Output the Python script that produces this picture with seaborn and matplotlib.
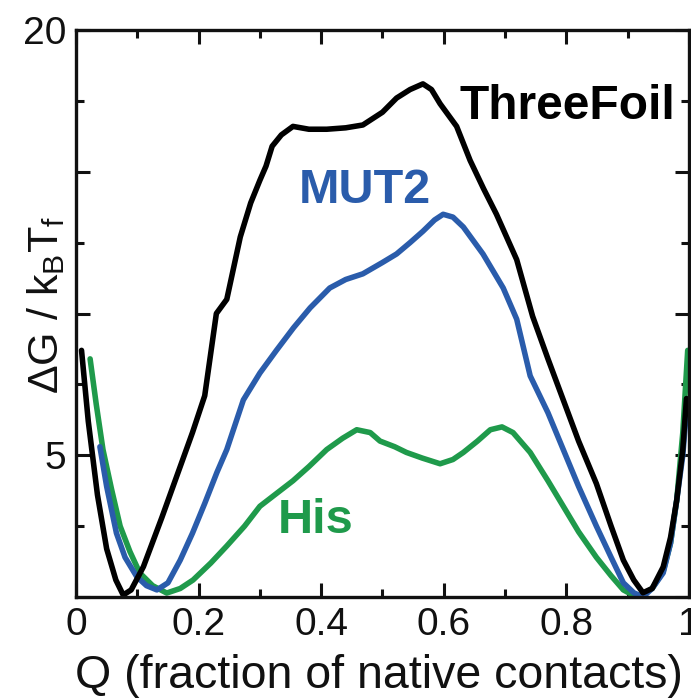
import matplotlib
matplotlib.use("Agg")
import matplotlib.pyplot as plt
import seaborn as sns
import pandas as pd
from matplotlib.ticker import MultipleLocator

# ThreeFoil (black)
q_three = [0.009, 0.02, 0.035, 0.05, 0.065, 0.077, 0.09, 0.11, 0.14, 0.17, 0.19, 0.21, 0.229, 0.246,
           0.268, 0.285, 0.3, 0.31, 0.32, 0.335, 0.354, 0.38, 0.409, 0.44, 0.468, 0.5, 0.523, 0.545,
           0.566, 0.58, 0.594, 0.621, 0.643, 0.665, 0.686, 0.719, 0.745, 0.77, 0.795, 0.82, 0.849,
           0.873, 0.893, 0.91, 0.925, 0.94, 0.958, 0.97, 0.98, 0.99, 0.996]
g_three = [8.7, 6.2, 3.6, 1.7, 0.6, 0.07, 0.25, 1.07, 2.8, 4.6, 5.8, 7.1, 10.0, 10.5,
           12.7, 13.9, 14.7, 15.2, 15.9, 16.3, 16.6, 16.5, 16.5, 16.55, 16.65, 17.1, 17.6, 17.9,
           18.1, 17.9, 17.4, 16.6, 15.4, 14.4, 13.5, 11.9, 9.9, 8.4, 6.95, 5.5, 4.0,
           2.5, 1.3, 0.6, 0.15, 0.3, 1.06, 2.1, 3.4, 5.2, 7.0]

# MUT2 (blue)
q_mut2 = [0.039, 0.05, 0.066, 0.08, 0.099, 0.115, 0.132, 0.15, 0.17, 0.19, 0.21, 0.23, 0.246,
          0.273, 0.3, 0.327, 0.355, 0.382, 0.414, 0.44, 0.468, 0.5, 0.523, 0.545, 0.566, 0.585,
          0.599, 0.615, 0.632, 0.664, 0.697, 0.719, 0.741, 0.77, 0.795, 0.82, 0.849, 0.873,
          0.893, 0.91, 0.925, 0.94, 0.958, 0.97, 0.98, 0.99, 0.996]
g_mut2 = [5.3, 3.9, 2.25, 1.4, 0.72, 0.4, 0.25, 0.5, 1.3, 2.25, 3.3, 4.4, 5.2,
          6.95, 7.9, 8.7, 9.5, 10.2, 10.9, 11.2, 11.4, 11.8, 12.1, 12.5, 12.9, 13.3,
          13.5, 13.4, 13.05, 12.1, 10.9, 9.8, 7.8, 6.5, 5.2, 3.9, 2.5, 1.4,
          0.5, 0.15, 0.0, 0.3, 0.85, 1.9, 3.4, 5.0, 6.6]

# His (green)
q_his = [0.023, 0.033, 0.044, 0.058, 0.072, 0.088, 0.104, 0.125, 0.148, 0.17, 0.191, 0.22, 0.246,
         0.275, 0.3, 0.33, 0.354, 0.38, 0.409, 0.435, 0.458, 0.48, 0.496, 0.52, 0.539, 0.565,
         0.594, 0.615, 0.632, 0.655, 0.676, 0.695, 0.713, 0.741, 0.77, 0.795, 0.82, 0.849, 0.873,
         0.893, 0.91, 0.92, 0.94, 0.958, 0.97, 0.98, 0.99, 0.998]
g_his = [8.4, 6.8, 5.2, 3.8, 2.5, 1.6, 0.85, 0.4, 0.14, 0.3, 0.6, 1.2, 1.8,
         2.5, 3.2, 3.7, 4.1, 4.6, 5.2, 5.6, 5.9, 5.8, 5.5, 5.3, 5.1, 4.9,
         4.7, 4.85, 5.1, 5.5, 5.9, 6.0, 5.8, 5.1, 4.1, 3.2, 2.3, 1.4, 0.75,
         0.25, 0.05, 0.0, 0.3, 0.9, 1.9, 3.4, 5.8, 8.7]

x_ticks = [0, 0.2, 0.4, 0.6, 0.8, 1.0]
x_tick_labels = ["0", "0.2", "0.4", "0.6", "0.8", "1"]
y_ticks = [0, 5, 10, 15, 20]
y_tick_labels = ["", "5", "", "", "20"]

colors = {"ThreeFoil": "#000000", "MUT2": "#2a5cab", "His": "#1f9a4b"}

df = pd.concat([
    pd.DataFrame({"Q": q_three, "G": g_three, "protein": "ThreeFoil"}),
    pd.DataFrame({"Q": q_mut2, "G": g_mut2, "protein": "MUT2"}),
    pd.DataFrame({"Q": q_his, "G": g_his, "protein": "His"}),
], ignore_index=True)

sns.set_theme(style="ticks")
plt.rcParams["font.family"] = ["Liberation Sans", "DejaVu Sans"]
plt.rcParams["mathtext.default"] = "regular"

fig = plt.figure(figsize=(6.91, 6.98), dpi=100)
ax = fig.add_axes([0.110, 0.1447, 0.887, 0.8123])

sns.lineplot(data=df, x="Q", y="G", hue="protein", hue_order=["His", "MUT2", "ThreeFoil"],
             palette=colors, sort=False, estimator=None, linewidth=4.0, legend=False, ax=ax)

ax.set_xlim(0, 1)
ax.set_ylim(0, 20)
ax.set_xticks(x_ticks)
ax.set_xticklabels(x_tick_labels)
ax.xaxis.set_minor_locator(MultipleLocator(0.1))
ax.set_yticks(y_ticks)
ax.set_yticklabels(y_tick_labels)
ax.yaxis.set_minor_locator(MultipleLocator(2.5))
ax.tick_params(which="both", direction="in", top=True, right=True, width=2.2, labelsize=28,
               colors="#111111", pad=7)
ax.tick_params(which="major", length=10)
ax.tick_params(which="minor", length=6)
for s in ax.spines.values():
    s.set_linewidth(2.4)
    s.set_color("#111111")

ax.set_xlabel("Q (fraction of native contacts)", fontsize=33.5, color="#111111")
ax.xaxis.set_label_coords(0.494, -0.100)
ax.set_ylabel(r"$\Delta$G / k$_B$T$_f$", fontsize=31, color="#111111")
ax.yaxis.set_label_coords(-0.014, 0.515)

ax.text(0.626, 17.3, "ThreeFoil", color=colors["ThreeFoil"], fontsize=34.5, fontweight="bold",
        va="center", ha="left")
ax.text(0.364, 14.35, "MUT2", color=colors["MUT2"], fontsize=35, fontweight="bold",
        va="center", ha="left")
ax.text(0.329, 2.7, "His", color=colors["His"], fontsize=35, fontweight="bold",
        va="center", ha="left")

fig.savefig("out.png", dpi=100)
